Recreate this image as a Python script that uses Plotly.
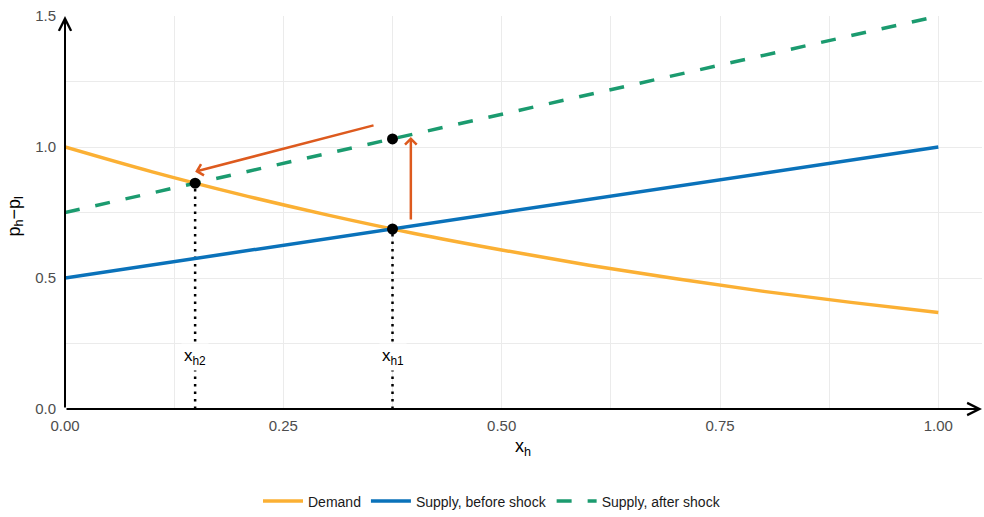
import plotly.graph_objects as go

# ---- data ----
demand_x = [0.0, 0.1, 0.2, 0.3, 0.4, 0.5, 0.6, 0.7, 0.8, 0.9, 1.0]
demand_y = [1.000, 0.905, 0.819, 0.741, 0.670, 0.607, 0.549, 0.497, 0.449, 0.407, 0.368]

supply_x = [0.0, 1.0]
supply_before = [0.50, 1.00]
supply_after = [0.75, 1.50]

eq_x = [0.375, 0.149, 0.375]
eq_y = [0.687, 0.862, 1.031]

guide_labels = ["x<sub>h1</sub>", "x<sub>h2</sub>"]
guide_label_y = 0.2

shift_arrow = dict(x0=0.396, y0=0.718, x1=0.396, y1=1.038)
move_arrow = dict(x0=0.355, y0=1.084, x1=0.149, y1=0.906)

x_ticks = [0.0, 0.25, 0.5, 0.75, 1.0]
x_ticktext = ["0.00", "0.25", "0.50", "0.75", "1.00"]
y_ticks = [0.0, 0.5, 1.0, 1.5]
y_ticktext = ["0.0", "0.5", "1.0", "1.5"]
x_max = 1.05
y_max = 1.5

c_demand = "#FBB034"
c_before = "#0A72BA"
c_after = "#1B9B6F"
c_arrow = "#DD5A1E"
FONT = "Liberation Sans, Arial, sans-serif"

fig = go.Figure()

# dotted guides from equilibria down to x axis
for gx, gy in zip(eq_x[:2], eq_y[:2]):
    fig.add_trace(go.Scatter(x=[gx, gx], y=[0, gy], mode="lines",
                             line=dict(color="black", width=2.5, dash="2.5px,5px"),
                             showlegend=False, hoverinfo="skip"))

fig.add_trace(go.Scatter(x=demand_x, y=demand_y, mode="lines", name="Demand",
                         line=dict(color=c_demand, width=3.5, shape="spline")))
fig.add_trace(go.Scatter(x=supply_x, y=supply_before, mode="lines", name="Supply, before shock",
                         line=dict(color=c_before, width=3.5)))
fig.add_trace(go.Scatter(x=supply_x, y=supply_after, mode="lines", name="Supply, after shock",
                         line=dict(color=c_after, width=3.5, dash="15px,16px")))

fig.add_trace(go.Scatter(x=eq_x, y=eq_y, mode="markers",
                         marker=dict(color="black", size=11),
                         showlegend=False, hoverinfo="skip"))

annotations = []
# guide labels
for lab, gx in zip(guide_labels, eq_x[:2]):
    annotations.append(dict(x=gx, y=guide_label_y, xref="x", yref="y", text=lab,
                            showarrow=False, bgcolor="white", borderpad=2,
                            xanchor="center", yanchor="middle",
                            font=dict(family=FONT, size=17, color="black")))

# orange arrows
for a in (shift_arrow, move_arrow):
    annotations.append(dict(x=a["x1"], y=a["y1"], ax=a["x0"], ay=a["y0"],
                            xref="x", yref="y", axref="x", ayref="y", text="",
                            showarrow=True, arrowhead=4, arrowsize=0.9,
                            arrowwidth=2.5, arrowcolor=c_arrow, standoff=0))

# axis lines with arrow heads
annotations.append(dict(x=x_max, y=0, ax=0, ay=0, xref="x", yref="y", axref="x", ayref="y",
                        text="", showarrow=True, arrowhead=5, arrowsize=1.2,
                        arrowwidth=2, arrowcolor="black", standoff=0))
annotations.append(dict(x=0, y=y_max, ax=0, ay=0, xref="x", yref="y", axref="x", ayref="y",
                        text="", showarrow=True, arrowhead=5, arrowsize=1.2,
                        arrowwidth=2, arrowcolor="black", standoff=0))

# axis titles
annotations.append(dict(x=0.4993, y=-0.0967, xref="paper", yref="paper",
                        xanchor="center", yanchor="middle",
                        text="x<sub>h</sub>", showarrow=False,
                        font=dict(family=FONT, size=18, color="black")))
annotations.append(dict(x=-0.0545, y=0.49, xref="paper", yref="paper",
                        xanchor="center", yanchor="middle",
                        text="p<sub>h</sub>−p<sub>l</sub>", showarrow=False, textangle=-90,
                        font=dict(family=FONT, size=18, color="black")))

fig.update_layout(
    width=984, height=517,
    margin=dict(l=65, r=2, t=16, b=108, autoexpand=False),
    paper_bgcolor="white", plot_bgcolor="white",
    hovermode=False,
    font=dict(family=FONT, size=15, color="#4D4D4D"),
    annotations=annotations,
    legend=dict(orientation="h", xref="container", yref="container",
                x=0.5, xanchor="center", y=0.03, yanchor="middle",
                font=dict(family=FONT, size=14, color="#1A1A1A"), itemwidth=40),
    xaxis=dict(range=[0, x_max], tickvals=x_ticks, ticktext=x_ticktext,
               showgrid=True, gridcolor="#EBEBEB", gridwidth=1, zeroline=False,
               showline=False, ticks="", ticklabelstandoff=6,
               minor=dict(tick0=0, dtick=0.125, showgrid=True, gridcolor="#EBEBEB", gridwidth=1),
               fixedrange=True, automargin=False),
    yaxis=dict(range=[0, y_max], tickvals=y_ticks, ticktext=y_ticktext,
               showgrid=True, gridcolor="#EBEBEB", gridwidth=1, zeroline=False,
               showline=False, ticks="", ticklabelstandoff=8,
               minor=dict(tick0=0, dtick=0.25, showgrid=True, gridcolor="#EBEBEB", gridwidth=1),
               fixedrange=True, automargin=False),
)

fig.write_html("out.html")
